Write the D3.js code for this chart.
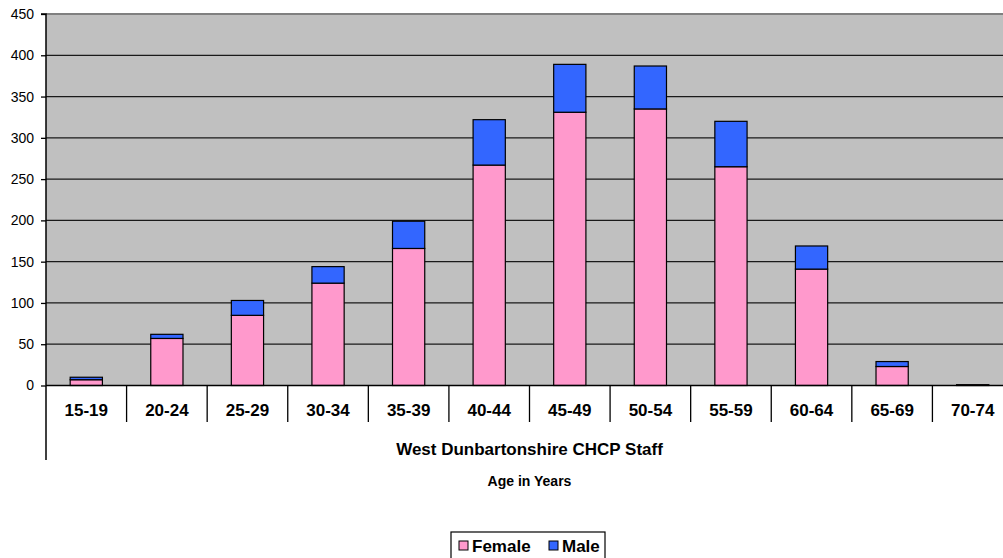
<!DOCTYPE html>
<html>
<head>
<meta charset="utf-8">
<script src="https://cdn.jsdelivr.net/npm/d3@7"></script>
<style>
  html, body { margin: 0; padding: 0; background: #ffffff; }
  svg { display: block; font-family: "Liberation Sans", Arial, sans-serif; }
</style>
</head>
<body>
<svg id="chart" width="1003" height="558"></svg>
<script>
const categories = ["15-19","20-24","25-29","30-34","35-39","40-44","45-49","50-54","55-59","60-64","65-69","70-74"];
const female = [7, 57, 85, 124, 166, 267, 331, 335, 265, 141, 23, 1];
const male   = [3, 5, 18, 20, 33, 55, 58, 52, 55, 28, 6, 0];
const yTicks = [0, 50, 100, 150, 200, 250, 300, 350, 400, 450];
const seriesNames = ["Female", "Male"];
const seriesColors = ["#FF99CC", "#3366FF"];
const groupLabel = "West Dunbartonshire CHCP Staff";
const axisTitle = "Age in Years";

(function () {
const svg = d3.select("#chart");
const pLeft = 46, pRight = 1013, pTop = 14, pBottom = 385.5;

const x = d3.scaleBand().domain(categories).range([pLeft, pRight]).paddingInner(0.6).paddingOuter(0.3);
const y = d3.scaleLinear().domain([0, 450]).range([pBottom, pTop]);

// plot background
svg.append("rect").attr("x", pLeft).attr("y", pTop).attr("width", pRight - pLeft).attr("height", pBottom - pTop).attr("fill", "#C0C0C0");

// gridlines
svg.append("g").selectAll("line").data(yTicks.filter(d => d > 0 && d < 450)).join("line")
  .attr("x1", pLeft).attr("x2", pRight).attr("y1", d => y(d)).attr("y2", d => y(d))
  .attr("stroke", "#1a1a1a").attr("stroke-width", 1.2);

// top border
svg.append("line").attr("x1", pLeft).attr("x2", pRight).attr("y1", y(450)).attr("y2", y(450))
  .attr("stroke", "#808080").attr("stroke-width", 2);

// stacked data
const rows = categories.map((c, i) => ({ cat: c, Female: female[i], Male: male[i] }));
const stack = d3.stack().keys(seriesNames)(rows);

svg.append("g").selectAll("g").data(stack).join("g")
  .attr("fill", (d, i) => seriesColors[i])
  .selectAll("rect").data(d => d).join("rect")
  .attr("x", d => x(d.data.cat))
  .attr("width", x.bandwidth())
  .attr("y", d => y(d[1]))
  .attr("height", d => Math.max(0, y(d[0]) - y(d[1])))
  .attr("stroke", "#000").attr("stroke-width", 1.2);

// y axis
const yAxis = d3.axisLeft(y).tickValues(yTicks).tickSize(5).tickPadding(7);
const yg = svg.append("g").attr("transform", `translate(${pLeft},0)`).call(yAxis);
yg.select(".domain").attr("stroke", "#000").attr("stroke-width", 1.5).attr("d", `M-5,${y(450)}H0V${pBottom}`);
yg.selectAll(".tick line").attr("stroke", "#000").attr("stroke-width", 1.3);
yg.selectAll(".tick text").attr("font-size", 14).attr("fill", "#000").attr("font-family", '"Liberation Sans", Arial, sans-serif');

// x axis line (zero)
svg.append("line").attr("x1", pLeft).attr("x2", pRight).attr("y1", pBottom).attr("y2", pBottom)
  .attr("stroke", "#000").attr("stroke-width", 1.5);

// category separators
const step = x.step();
const bounds = d3.range(1, categories.length + 1).map(i => pLeft + i * step);
svg.append("g").selectAll("line").data(bounds).join("line")
  .attr("x1", d => d).attr("x2", d => d).attr("y1", pBottom).attr("y2", 422)
  .attr("stroke", "#000").attr("stroke-width", 1.3);
svg.append("line").attr("x1", pLeft).attr("x2", pLeft).attr("y1", pBottom).attr("y2", 460)
  .attr("stroke", "#000").attr("stroke-width", 1.5);

// category labels
svg.append("g").selectAll("text").data(categories).join("text")
  .attr("x", d => x(d) + x.bandwidth() / 2)
  .attr("y", 416)
  .attr("text-anchor", "middle")
  .attr("font-size", 17).attr("font-weight", "bold")
  .text(d => d);

// group label
svg.append("text").attr("x", (pLeft + pRight) / 2).attr("y", 455)
  .attr("text-anchor", "middle").attr("font-size", 17).attr("font-weight", "bold")
  .text(groupLabel);

// axis title
svg.append("text").attr("x", (pLeft + pRight) / 2).attr("y", 486)
  .attr("text-anchor", "middle").attr("font-size", 14).attr("font-weight", "bold")
  .text(axisTitle);

// legend
const lg = svg.append("g");
lg.append("rect").attr("x", 451).attr("y", 532).attr("width", 154).attr("height", 32)
  .attr("fill", "#fff").attr("stroke", "#000").attr("stroke-width", 1.2);
const legendX = [459, 549];
seriesNames.forEach((name, i) => {
  lg.append("rect").attr("x", legendX[i]).attr("y", 541).attr("width", 9).attr("height", 9)
    .attr("fill", seriesColors[i]).attr("stroke", "#000").attr("stroke-width", 1);
  lg.append("text").attr("x", legendX[i] + 13).attr("y", 552)
    .attr("font-size", 17).attr("font-weight", "bold").text(name);
});
})();
</script>
</body>
</html>
